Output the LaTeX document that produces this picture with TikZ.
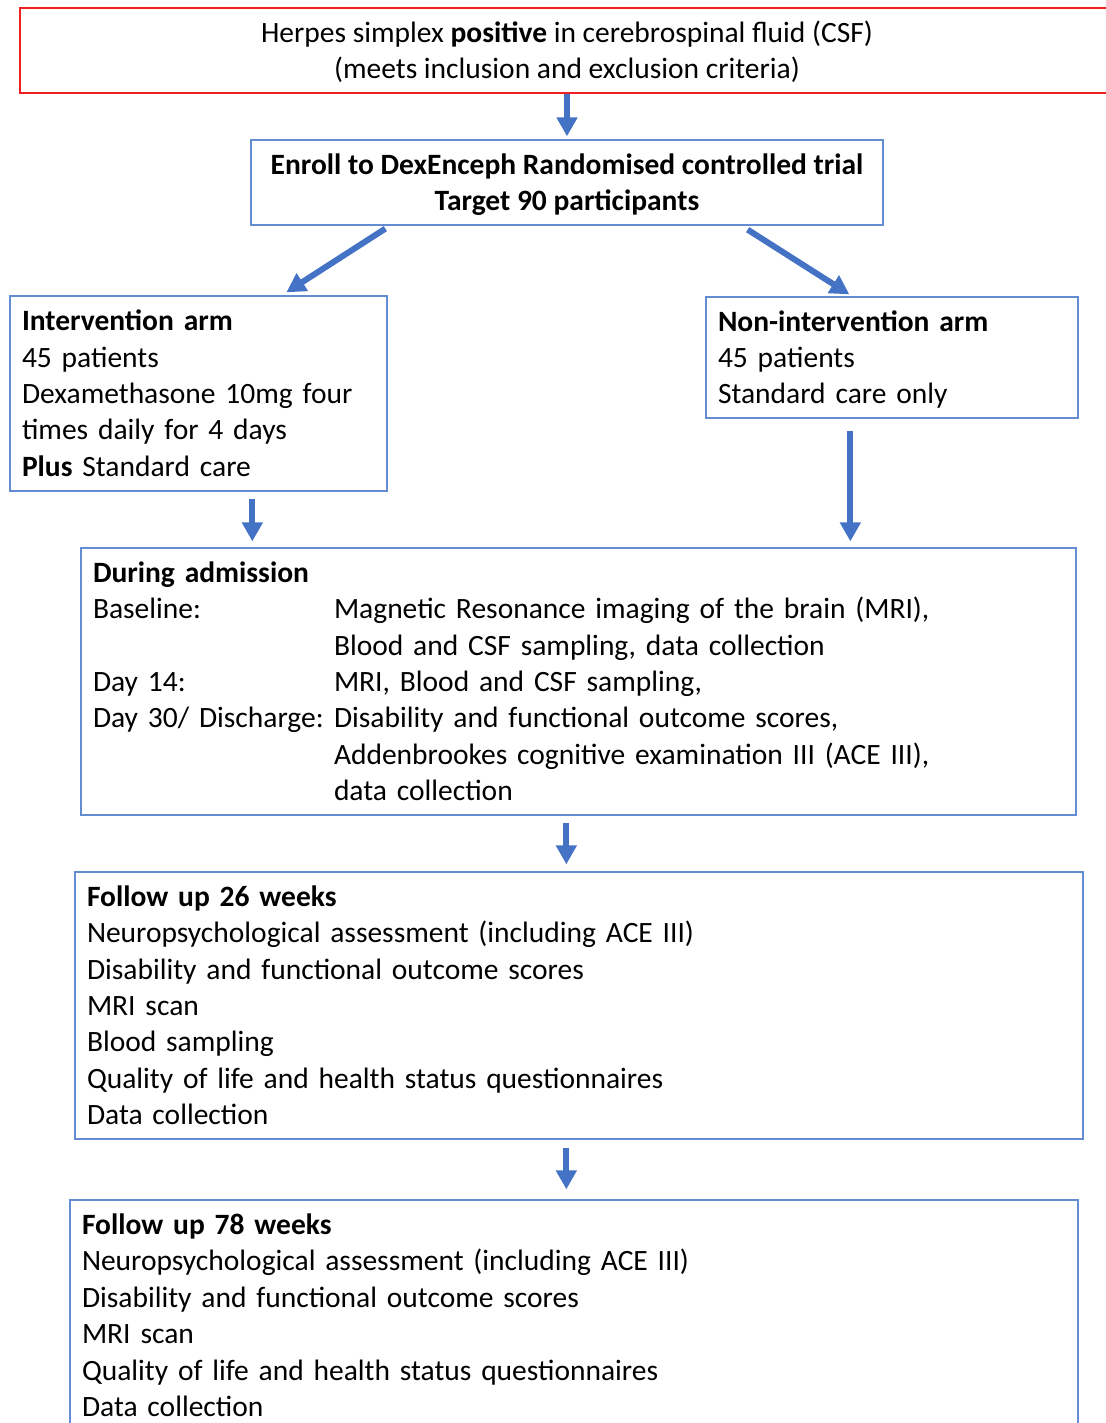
\documentclass[tikz,border=0pt]{standalone}
\usepackage{fontspec}
\setmainfont{Carlito}
\usetikzlibrary{arrows.meta,calc}
\definecolor{boxblue}{RGB}{100,140,210}
\definecolor{arrblue}{RGB}{68,114,196}
\definecolor{boxred}{RGB}{238,32,36}
\newcommand\myfirst[1]{\rule{0pt}{20pt}\smash{#1}}
\newcommand\mylast[1]{\smash{#1}}
\begin{document}
\begin{tikzpicture}[x=1pt,y=-1pt,
  box/.style={draw=boxblue,line width=1.3pt,rectangle,inner xsep=12pt,inner ysep=0pt,
    align=left,font=\fontsize{29.5}{36.4}\selectfont,anchor=center},
  arr/.style={draw=arrblue,line width=6pt,-{Triangle[width=20pt,length=19pt]}}]
\useasboundingbox (0,0) rectangle (1105,1423);

\node[box,draw=boxred,align=center,minimum width=1094pt,minimum height=85pt]
  (top) at (567,50.5)
  {\myfirst{Herpes simplex \textbf{positive} in cerebrospinal fluid (CSF)}\\\mylast{(meets inclusion and exclusion criteria)}};

\node[box,align=center,minimum width=632pt,minimum height=85pt]
  (enroll) at (567,182.5)
  {\myfirst{\textbf{Enroll to DexEnceph Randomised controlled trial}}\\\mylast{\textbf{Target 90 participants}}};

\node[box,minimum width=377pt,minimum height=195pt,text width=353pt]
  (intv) at (198.5,393.5)
  {\myfirst{\textbf{Intervention arm}}\\45 patients\\Dexamethasone 10mg four\\times daily for 4 days\\\mylast{\textbf{Plus} Standard care}};

\node[box,minimum width=372pt,minimum height=121pt,text width=348pt]
  (nonint) at (892,357.5)
  {\myfirst{\textbf{Non-intervention arm}}\\45 patients\\\mylast{Standard care only}};

\node[box,minimum width=995pt,minimum height=267pt,text width=971pt]
  (adm) at (578.5,681.5)
  {\myfirst{\textbf{During admission}}\\
   \makebox[241pt][l]{Baseline:}Magnetic Resonance imaging of the brain (MRI),\\
   \hspace*{241pt}Blood and CSF sampling, data collection\\
   \makebox[241pt][l]{Day 14:}MRI, Blood and CSF sampling,\\
   \makebox[241pt][l]{Day 30/ Discharge:}Disability and functional outcome scores,\\
   \hspace*{241pt}Addenbrookes cognitive examination III (ACE III),\\
   \hspace*{241pt}\mylast{data collection}};

\node[box,minimum width=1008pt,minimum height=267pt,text width=984pt]
  (fu26) at (579,1005.5)
  {\myfirst{\textbf{Follow up 26 weeks}}\\
   Neuropsychological assessment (including ACE III)\\
   Disability and functional outcome scores\\
   MRI scan\\
   Blood sampling\\
   Quality of life and health status questionnaires\\
   \mylast{Data collection}};

\node[box,minimum width=1008pt,minimum height=231pt,text width=984pt]
  (fu78) at (574,1315.5)
  {\myfirst{\textbf{Follow up 78 weeks}}\\
   Neuropsychological assessment (including ACE III)\\
   Disability and functional outcome scores\\
   MRI scan\\
   Quality of life and health status questionnaires\\
   \mylast{Data collection}};

\draw[arr,shorten >=3pt] (top) -- (enroll);
\draw[arr] ($(enroll.south west)+(135,3)$) -- ($(intv.north west)+(277,-3)$);
\draw[arr] ($(enroll.south east)+(-136,4)$) -- ($(nonint.north west)+(144,-2)$);
\draw[arr] ($(intv.south west)+(243,7)$) -- ($(adm.north west)+(172,-6)$);
\draw[arr] ($(nonint.south west)+(145,12)$) -- ($(adm.north west)+(770,-6)$);
\draw[arr] ($(adm.south west)+(486,7)$) -- ($(fu26.north west)+(492,-7)$);
\draw[arr] ($(fu26.south west)+(492,8)$) -- ($(fu78.north west)+(497,-10)$);
\end{tikzpicture}
\end{document}
